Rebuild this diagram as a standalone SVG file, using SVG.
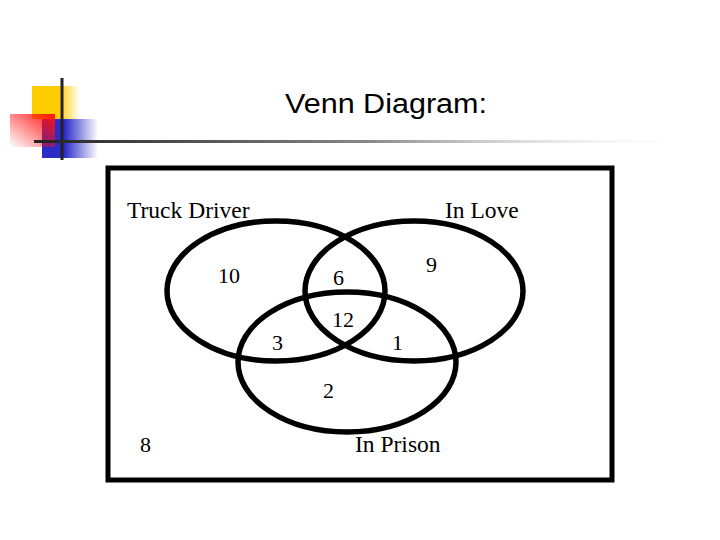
<svg xmlns="http://www.w3.org/2000/svg" width="720" height="540" viewBox="0 0 720 540">
<defs>
<linearGradient id="gy" x1="0" y1="0" x2="1" y2="0"><stop offset="0.55" stop-color="#ffcc00"/><stop offset="1" stop-color="#ffcc00" stop-opacity="0"/></linearGradient>
<linearGradient id="gb" x1="0" y1="0" x2="1" y2="0"><stop offset="0.4" stop-color="#2b2bc8"/><stop offset="1" stop-color="#2b2bc8" stop-opacity="0"/></linearGradient>
<linearGradient id="gr" x1="1" y1="0" x2="0" y2="1"><stop offset="0" stop-color="#ff1010"/><stop offset="1" stop-color="#ff1010" stop-opacity="0"/></linearGradient>
<linearGradient id="gl" x1="0" y1="0" x2="1" y2="0"><stop offset="0" stop-color="#222"/><stop offset="0.5" stop-color="#888"/><stop offset="1" stop-color="#fff" stop-opacity="0"/></linearGradient>
<style>
.set{fill:none;stroke:#000;stroke-width:5.5}
.lbl{font-family:"Liberation Serif","Times New Roman",serif;font-size:23.5px;fill:#000}
.num{font-family:"Liberation Serif","Times New Roman",serif;font-size:22px;fill:#000}
</style>
</defs>
<rect width="720" height="540" fill="#fff"/>
<g id="decor">
<rect x="32" y="86" width="48" height="33" fill="url(#gy)"/>
<rect x="42" y="119" width="56" height="39" fill="url(#gb)"/>
<rect x="10" y="114" width="45" height="33" fill="url(#gr)"/>
<rect x="60.5" y="78" width="3" height="82" fill="#222"/>
<rect x="34" y="140" width="670" height="3" fill="url(#gl)"/>
</g>
<text x="285" y="113" textLength="202" lengthAdjust="spacingAndGlyphs" font-family="'Liberation Sans',Arial,sans-serif" font-size="27" fill="#000">Venn Diagram:</text>
<g id="universe"><rect x="108" y="168" width="504" height="312" fill="none" stroke="#000" stroke-width="5"/></g>
<g id="truck-driver"><ellipse class="set" cx="276" cy="291" rx="109" ry="70"/><text class="lbl" x="127" y="218">Truck Driver</text></g>
<g id="in-love"><ellipse class="set" cx="414" cy="291" rx="109" ry="70"/><text class="lbl" x="445" y="218">In Love</text></g>
<g id="in-prison"><ellipse class="set" cx="347" cy="362" rx="109" ry="70"/><text class="lbl" x="355" y="452">In Prison</text></g>
<g id="counts">
<text class="num" x="218" y="283">10</text>
<text class="num" x="333" y="285">6</text>
<text class="num" x="426" y="272">9</text>
<text class="num" x="332" y="327">12</text>
<text class="num" x="272" y="350">3</text>
<text class="num" x="392" y="350">1</text>
<text class="num" x="323" y="398">2</text>
<text class="num" x="140" y="452">8</text>
</g>
</svg>
